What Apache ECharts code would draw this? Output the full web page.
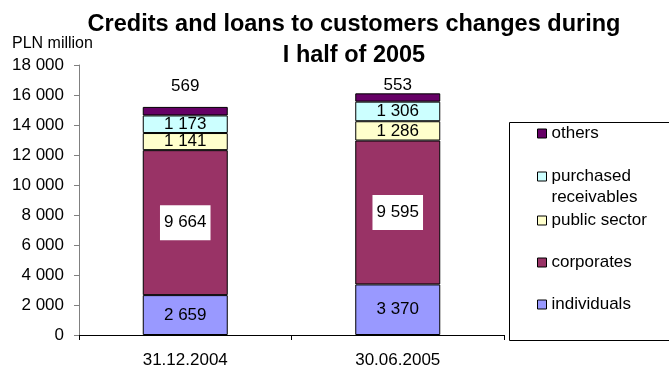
<!DOCTYPE html>
<html>
<head>
<meta charset="utf-8">
<script src="https://cdn.jsdelivr.net/npm/echarts@6/dist/echarts.min.js"></script>
<style>
  html, body { margin: 0; padding: 0; background: #fff; }
  #chart { width: 669px; height: 369px; }
</style>
</head>
<body>
<div id="chart"></div>
<script>
// Loan portfolio structure, PLN million
const categories = ['31.12.2004', '30.06.2005'];
const individuals = [2659, 3370];
const corporates = [9664, 9595];
const publicSector = [1141, 1286];
const purchasedReceivables = [1173, 1306];
const others = [569, 553];
const yTicks = [0, 2000, 4000, 6000, 8000, 10000, 12000, 14000, 16000, 18000];

const FONT = '"Liberation Sans", Arial, sans-serif';
const fmt = v => String(v).replace(/\B(?=(\d{3})+(?!\d))/g, ' ');

// gap between the top of each stack and its "others" label
const othersLabelGap = [12, 0];

const border = { borderColor: '#000', borderWidth: 1 };
const insideLabel = {
  show: true, position: 'inside', color: '#000',
  fontFamily: FONT, fontSize: 17,
  formatter: p => fmt(p.value)
};

const seriesDefs = [
  { name: 'individuals', data: individuals, color: '#9999FF', label: insideLabel },
  { name: 'corporates', data: corporates, color: '#993366',
    label: Object.assign({}, insideLabel, { backgroundColor: '#fff', padding: [7, 4, 7, 4], lineHeight: 21 }) },
  { name: 'public sector', data: publicSector, color: '#FFFFCC', label: insideLabel },
  { name: 'purchased receivables', data: purchasedReceivables, color: '#CCFFFF', label: insideLabel },
  { name: 'others', data: others.map((v, i) => ({ value: v, label: { distance: othersLabelGap[i] } })), color: '#660066',
    label: { show: true, position: 'top', color: '#000', fontFamily: FONT, fontSize: 17, formatter: p => fmt(p.value) } }
];

const series = seriesDefs.map(s => ({
  name: s.name,
  type: 'bar',
  stack: 'total',
  barWidth: 85,
  data: s.data,
  itemStyle: Object.assign({ color: s.color }, border),
  label: s.label,
  emphasis: { disabled: true }
}));

// legend entries, one block per row so the rows keep their spacing
const legendRows = [
  { name: 'others', top: 123 },
  { name: 'purchased receivables', top: 145 },
  { name: 'public sector', top: 210 },
  { name: 'corporates', top: 252 },
  { name: 'individuals', top: 294 }
];
const legends = legendRows.map(r => ({
  data: [r.name],
  left: 537,
  top: r.top,
  orient: 'vertical',
  icon: 'rect',
  itemWidth: 9,
  itemHeight: 9,
  itemGap: 0,
  padding: 0,
  selectedMode: false,
  itemStyle: { borderColor: '#000', borderWidth: 1 },
  textStyle: { fontFamily: FONT, fontSize: 17, color: '#000', lineHeight: 21 },
  formatter: n => n === 'purchased receivables' ? '\npurchased\nreceivables' : n
}));

const chart = echarts.init(document.getElementById('chart'), null, { renderer: 'canvas' });
chart.setOption({
  animation: false,
  backgroundColor: '#fff',
  title: [
    {
      text: 'Credits and loans to customers changes during\nI half of 2005',
      left: 354, top: 9, textAlign: 'center', padding: 0,
      textStyle: { fontFamily: FONT, fontSize: 23.5, fontWeight: 'bold', color: '#000', lineHeight: 31 }
    },
    {
      text: 'PLN million',
      left: 12, top: 36, padding: 0,
      textStyle: { fontFamily: FONT, fontSize: 16, fontWeight: 'normal', color: '#000' }
    }
  ],
  legend: legends,
  graphic: [
    { type: 'rect', shape: { x: 509.5, y: 122.5, width: 200, height: 218 },
      style: { fill: 'none', stroke: '#000', lineWidth: 1 }, silent: true, z: 0 }
  ],
  grid: { left: 79, right: 165, top: 65, bottom: 33 },
  xAxis: {
    type: 'category',
    data: categories,
    axisLine: { lineStyle: { color: '#000', width: 1 } },
    axisTick: { show: true, length: 5, lineStyle: { color: '#000' } },
    axisLabel: { color: '#000', fontFamily: FONT, fontSize: 17, margin: 17 }
  },
  yAxis: {
    type: 'value',
    min: yTicks[0],
    max: yTicks[yTicks.length - 1],
    interval: yTicks[1] - yTicks[0],
    axisLine: { show: true, lineStyle: { color: '#808080', width: 1 } },
    axisTick: { show: true, length: 5, lineStyle: { color: '#808080' } },
    splitLine: { show: false },
    axisLabel: { color: '#000', fontFamily: FONT, fontSize: 17, margin: 15, formatter: v => fmt(v) }
  },
  series: series
});
</script>
</body>
</html>
